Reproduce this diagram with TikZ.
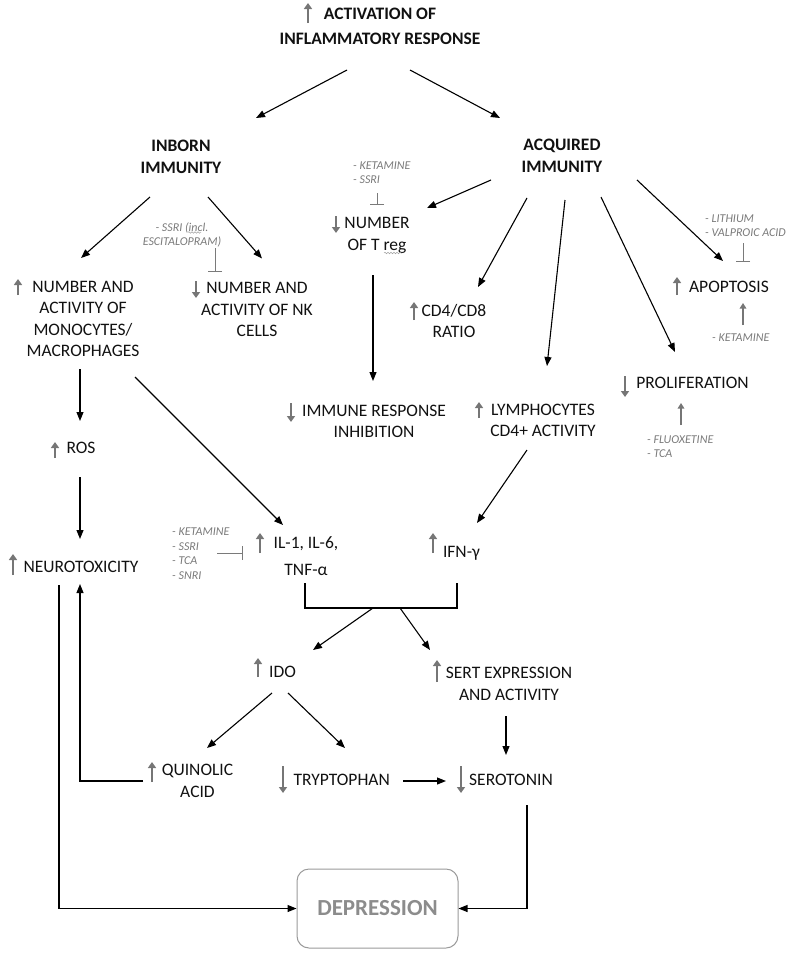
\documentclass[tikz,border=0pt]{standalone}
\usepackage{fontspec}
\setmainfont{Carlito}
\usetikzlibrary{arrows.meta,calc,decorations.pathmorphing}
\definecolor{dgray}{HTML}{7A7A7A}
\definecolor{sgray}{HTML}{767676}
\definecolor{boxgray}{HTML}{9A9A9A}
\definecolor{depgray}{HTML}{8C8C8C}
\definecolor{ink}{HTML}{111111}
\begin{document}
\begin{tikzpicture}[x=1pt,y=-1pt,
  txt/.style={font=\fontsize{17.5}{21.5}\selectfont, align=center, inner sep=0pt, text height=11pt, text depth=0pt, text=ink},
  hd/.style={txt, font=\fontsize{17.5}{22}\selectfont\bfseries},
  drug/.style={font=\fontsize{12}{14.5}\selectfont\itshape, text=dgray, align=left, inner sep=0pt, anchor=west, text height=7.6pt, text depth=0pt},
  arr/.style={draw=black, line width=1.1pt, -{Triangle[length=9pt,width=7pt]}},
  link/.style={draw=black, line width=1.1pt},
  stat/.style={draw=sgray, line width=2.3pt, -{Triangle[length=6pt,width=8pt]}},
  ptr/.style={draw=sgray, line width=1.4pt, -{Triangle[length=5.5pt,width=6.5pt]}},
  inh/.style={draw=dgray, line width=1pt, -{Bar[width=14pt,line width=1pt]}},
  spell/.style={draw=dgray!70, line width=0.5pt, decorate, decoration={snake, amplitude=0.8pt, segment length=3pt}}
]
\useasboundingbox (0,0) rectangle (790,953);

% ---------- main nodes ----------
\node[hd, font=\fontsize{17.5}{25}\selectfont\bfseries, text height=36pt] (title) at (380,26.5) {ACTIVATION OF\\INFLAMMATORY RESPONSE};
\node[hd, text height=33pt] (inborn) at (181,157) {INBORN\\IMMUNITY};
\node[hd, text height=33pt] (acq) at (562,156) {ACQUIRED\\IMMUNITY};
\node[txt, text height=75.5pt] (mono) at (83,319) {NUMBER AND\\ACTIVITY OF\\MONOCYTES/\\MACROPHAGES};
\node[txt, text height=54pt] (nk) at (257,309.5) {NUMBER AND\\ACTIVITY OF NK\\CELLS};
\node[txt, text height=32.5pt] (treg) at (377,234) {NUMBER\\OF T reg};
\node[txt, text height=32.5pt] (immune) at (374,421.7) {IMMUNE RESPONSE\\INHIBITION};
\node[txt, text height=32.5pt] (cd4) at (454,321.7) {CD4/CD8\\RATIO};
\node[txt, text height=32.5pt] (lymph) at (543,420.4) {LYMPHOCYTES\\CD4+ ACTIVITY};
\node[txt] (apop) at (729,286.7) {APOPTOSIS};
\node[txt] (prolif) at (692.5,383.3) {PROLIFERATION};
\node[txt] (ros) at (81,448.3) {ROS};
\node[txt] (neuro) at (81,567.3) {NEUROTOXICITY};
\node[txt, font=\fontsize{17.5}{27}\selectfont, text height=38pt] (il) at (306,556.5) {IL-1, IL-6,\\TNF-α};
\node[txt] (ifn) at (461.5,552) {IFN-γ};
\node[txt] (ido) at (282.5,671.7) {IDO};
\node[txt, text height=32.5pt] (sert) at (509,684) {SERT EXPRESSION\\AND ACTIVITY};
\node[txt, text height=32.5pt] (quin) at (197.5,781) {QUINOLIC\\ACID};
\node[txt] (tryp) at (341.7,780) {TRYPTOPHAN};
\node[txt] (sero) at (511,780) {SEROTONIN};
\node[draw=boxgray, line width=1pt, rounded corners=12pt, minimum width=161pt, minimum height=79pt,
      inner sep=0pt, font=\fontsize{23}{27}\selectfont\bfseries, text=depgray] (dep) at (377.5,908.5) {DEPRESSION};

% ---------- drug labels ----------
\node[drug, text height=22.1pt] (tregdrug) at (353,172.5) {- KETAMINE\\- SSRI};
\node[drug, align=center, anchor=center, text height=22.1pt] (nkdrug) at (182,234.5) {- SSRI (incl.\\ESCITALOPRAM)};
\node[drug, text height=22.1pt] (apopdrug) at (705,225.5) {- LITHIUM\\- VALPROIC ACID};
\node[drug] (apopket) at (712,338) {- KETAMINE};
\node[drug, text height=22.1pt] (prolifdrug) at (647,446.7) {- FLUOXETINE\\- TCA};
\node[drug, text height=51.1pt] (ildrug) at (172,553.5) {- KETAMINE\\- SSRI\\- TCA\\- SNRI};

% spell-check underlines
\draw[spell] (384,253) -- (402,253);
\draw[spell] (188,232.5) -- (201,232.5);

% ---------- status arrows ----------
\draw[stat] (308,23) -- (308,3);
\draw[stat] (18,295) -- (18,279);
\draw[stat] (196,281) -- (196,298);
\draw[stat] (336,216) -- (336,233);
\draw[stat] (414,320) -- (414,302);
\draw[stat] (677,295) -- (677,277);
\draw[stat] (625,376) -- (625,397);
\draw[stat] (291,403) -- (291,422);
\draw[stat] (479,418) -- (479,402);
\draw[stat] (55,458) -- (55,442);
\draw[stat] (13,575) -- (13,554);
\draw[stat] (260,553) -- (260,533);
\draw[stat] (433,553) -- (433,533);
\draw[stat] (258,677) -- (258,658);
\draw[stat] (437,682) -- (437,660);
\draw[stat] (152,782) -- (152,762);
\draw[stat] (283,766) -- (283,793);
\draw[stat] (461,766) -- (461,793);

% ---------- connectors ----------
\draw[arr] ([shift={(-33,43.5)}]title.center) -- ([shift={(75,-39)}]inborn.center);
\draw[arr] ([shift={(30,43.5)}]title.center) -- ([shift={(-62,-38)}]acq.center);
\draw[arr] ([shift={(-31,40)}]inborn.center) -- ([shift={(-2,-61)}]mono.center);
\draw[arr] ([shift={(27,40)}]inborn.center) -- ([shift={(5,-51)}]nk.center);
\draw[inh] ([shift={(33,13.5)}]nkdrug.center) -- ([shift={(-42,-37.5)}]nk.center);
\draw[arr] ([shift={(-71,24)}]acq.center) -- ([shift={(50,-26)}]treg.center);
\draw[inh] ([shift={(24,20.5)}]tregdrug.west) -- ([shift={(0,-29)}]treg.center);
\draw[arr] ([shift={(-4,41)}]treg.center) -- ([shift={(-1,-40.7)}]immune.center);
\draw[arr] ([shift={(-35,42)}]acq.center) -- ([shift={(24,-34.7)}]cd4.center);
\draw[arr] ([shift={(3,44)}]acq.center) -- ([shift={(4,-54.4)}]lymph.center);
\draw[arr] ([shift={(39,41)}]acq.center) -- ([shift={(-17.5,-31.3)}]prolif.center);
\draw[arr] ([shift={(75,24)}]acq.center) -- ([shift={(-6,-25.7)}]apop.center);
\draw[inh] ([shift={(38,17.5)}]apopdrug.west) -- ([shift={(14,-24.7)}]apop.center);
\draw[ptr] ([shift={(31,-13)}]apopket.west) -- ([shift={(14,16.3)}]apop.center);
\draw[ptr] ([shift={(34,-21.7)}]prolifdrug.west) -- ([shift={(-11.5,19.7)}]prolif.center);
\draw[arr] ([shift={(-16,29.6)}]lymph.center) -- ([shift={(15.5,-29)}]ifn.center);
\draw[arr] ([shift={(-3,50)}]mono.center) -- ([shift={(-1,-27.3)}]ros.center);
\draw[arr] ([shift={(-1,28.7)}]ros.center) -- ([shift={(-1,-28.3)}]neuro.center);
\draw[arr] ([shift={(52,58)}]mono.center) -- ([shift={(-23,-31.5)}]il.center);
\draw[inh] ([shift={(45,-0.5)}]ildrug.west) -- ([shift={(-63,-3.5)}]il.center);

\draw[link] ([shift={(-1,26.5)}]il.center) |- ([shift={(-4.5,56)}]ifn.center) -- ([shift={(-4.5,31)}]ifn.center);
\coordinate (jl) at ([shift={(67,51.5)}]il.center);
\coordinate (jr) at ([shift={(94,51.5)}]il.center);
\draw[arr] (jl) -- ([shift={(30.5,-21.7)}]ido.center);
\draw[arr] (jr) -- ([shift={(-79,-34)}]sert.center);
\draw[arr] ([shift={(-10.5,21.3)}]ido.center) -- ([shift={(9.5,-33)}]quin.center);
\draw[arr] ([shift={(5.5,21.3)}]ido.center) -- ([shift={(3.3,-32)}]tryp.center);
\draw[arr] ([shift={(-3,32)}]sert.center) -- ([shift={(-5,-25)}]sero.center);
\draw[arr] ([shift={(61.3,1)}]tryp.center) -- ([shift={(-65,1)}]sero.center);
\draw[arr] ([shift={(-54.5,0)}]quin.center) -| ([shift={(-1,16.7)}]neuro.center);
\draw[arr] ([shift={(-22,17.7)}]neuro.center) |- (dep.west);
\draw[arr] ([shift={(16,25)}]sero.center) |- (dep.east);
\end{tikzpicture}
\end{document}
